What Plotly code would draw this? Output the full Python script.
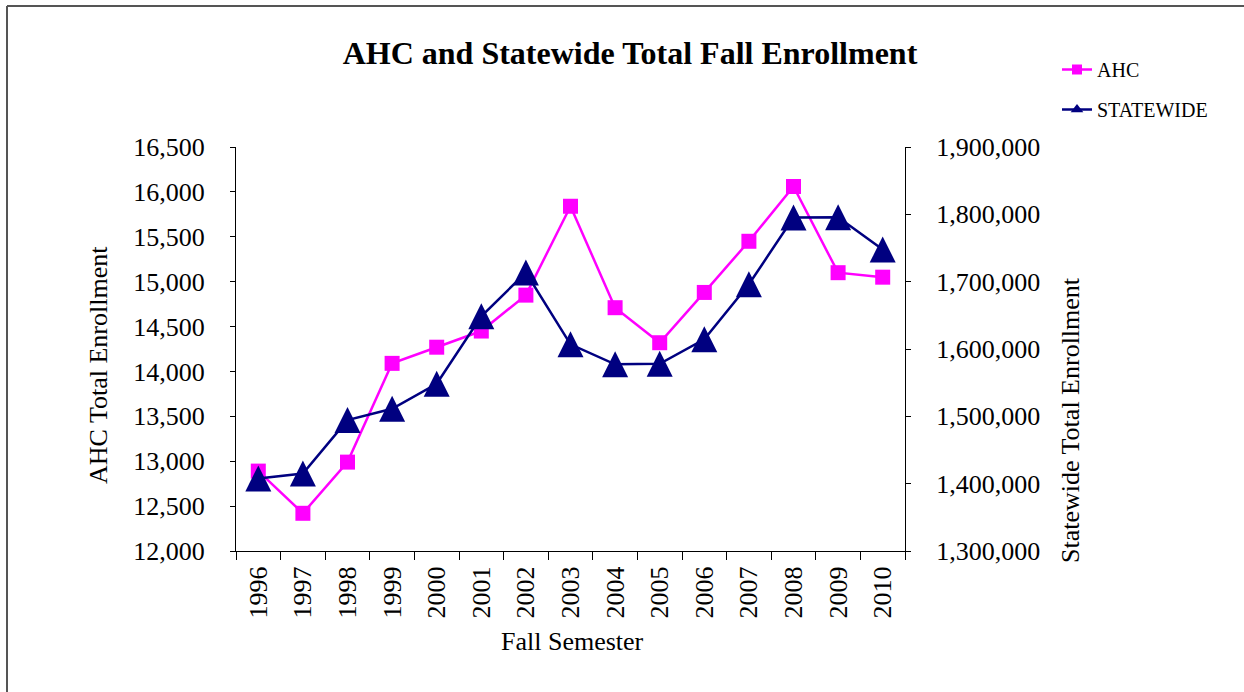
import plotly.graph_objects as go

years = ["1996", "1997", "1998", "1999", "2000", "2001", "2002", "2003",
         "2004", "2005", "2006", "2007", "2008", "2009", "2010"]
ahc = [12890, 12420, 12990, 14090, 14270, 14450, 14850, 15840,
       14710, 14320, 14880, 15450, 16060, 15100, 15050]
statewide = [1407700, 1415100, 1494400, 1511200, 1548400, 1648600, 1713500, 1607000,
             1577300, 1578100, 1614400, 1696200, 1795300, 1795700, 1747700]

FONT = "Liberation Serif, Times New Roman, serif"
AHC_COLOR = "#FF00FF"
STATE_COLOR = "#000080"

fig = go.Figure()
fig.add_trace(go.Scatter(
    x=years, y=ahc, name="AHC", mode="lines+markers", yaxis="y",
    line=dict(color=AHC_COLOR, width=2.5, backoff=0),
    marker=dict(symbol="square", size=15, color=AHC_COLOR),
    showlegend=False,
))
fig.add_trace(go.Scatter(
    x=years, y=statewide, name="STATEWIDE", mode="lines+markers", yaxis="y2",
    line=dict(color=STATE_COLOR, width=2.5, backoff=0),
    marker=dict(symbol="arrow-down", angle=180, size=26, standoff=13, color=STATE_COLOR),
    showlegend=False,
))
# legend entries (small markers, as in the original legend)
fig.add_trace(go.Scatter(
    x=[None], y=[None], name="AHC", mode="lines+markers",
    line=dict(color=AHC_COLOR, width=2.5),
    marker=dict(symbol="square", size=10, color=AHC_COLOR),
    legendgroup="a",
))
fig.add_trace(go.Scatter(
    x=[None], y=[None], name="STATEWIDE", mode="lines+markers",
    line=dict(color=STATE_COLOR, width=2.5),
    marker=dict(symbol="triangle-up", size=11, color=STATE_COLOR),
    legendgroup="b",
))

W, H = 1244, 692
L, R, T, B = 236, 905, 147, 551
pw, ph = R - L, B - T

def px(x):
    return (x - L) / pw

def py(y):
    return (B - y) / ph

axis_common = dict(showgrid=False, zeroline=False, showline=True, linecolor="black",
                   linewidth=1, tickcolor="black", tickfont=dict(family=FONT, size=26, color="black"))

fig.update_layout(
    width=W, height=H,
    margin=dict(l=L, r=W - R, t=T, b=H - B, autoexpand=False),
    paper_bgcolor="white", plot_bgcolor="white",
    font=dict(family=FONT, color="black"),
    showlegend=True,
    title=dict(text="<b>AHC and Statewide Total Fall Enrollment</b>",
               font=dict(family=FONT, size=32, color="black"),
               x=px(630), xref="paper", xanchor="center",
               y=1 - 53 / H, yref="container", yanchor="middle"),
    xaxis=dict(type="category", range=[-0.5, len(years) - 0.5], autorange=False,
               ticks="outside", ticklen=8, tickson="boundaries",
               tickangle=-90, ticklabelstandoff=4, mirror=False, **axis_common),
    yaxis=dict(range=[12000, 16500], dtick=500, tickformat=",", ticks="outside",
               ticklen=5, ticklabelstandoff=20, **axis_common),
    yaxis2=dict(range=[1300000, 1900000], dtick=100000, tickformat=",", ticks="outside",
                ticklen=5, overlaying="y", side="right", anchor="x",
                ticklabelstandoff=20, **axis_common),
    yaxis3=dict(range=[12000, 16500], dtick=500, ticks="inside", ticklen=5,
                overlaying="y", side="left", anchor="x", showticklabels=False,
                showgrid=False, zeroline=False, showline=False, tickcolor="black"),
    yaxis4=dict(range=[1300000, 1900000], dtick=100000, ticks="inside", ticklen=5,
                overlaying="y", side="right", anchor="x", showticklabels=False,
                showgrid=False, zeroline=False, showline=False, tickcolor="black"),
    legend=dict(x=px(1057), y=py(50), xanchor="left", yanchor="top",
                font=dict(family=FONT, size=20, color="black"),
                tracegroupgap=11, bgcolor="rgba(0,0,0,0)"),
    annotations=[
        dict(text="AHC Total Enrollment", textangle=-90, x=px(98), y=py(365),
             xref="paper", yref="paper", showarrow=False, xanchor="center", yanchor="middle",
             font=dict(family=FONT, size=26, color="black")),
        dict(text="Statewide Total Enrollment", textangle=-90, x=px(1070), y=py(420),
             xref="paper", yref="paper", showarrow=False, xanchor="center", yanchor="middle",
             font=dict(family=FONT, size=26, color="black")),
        dict(text="Fall Semester", x=px(572), y=py(641),
             xref="paper", yref="paper", showarrow=False, xanchor="center", yanchor="middle",
             font=dict(family=FONT, size=26, color="black")),
    ],
    shapes=[
        dict(type="line", xref="paper", yref="paper", x0=px(7), x1=px(W), y0=py(6), y1=py(6),
             line=dict(color="#555555", width=2)),
        dict(type="line", xref="paper", yref="paper", x0=px(7), x1=px(7), y0=py(6), y1=py(H),
             line=dict(color="#555555", width=2)),
    ],
)

fig.write_html("out.html", config={"displayModeBar": False},
               post_script="document.body.style.margin='0px';")
